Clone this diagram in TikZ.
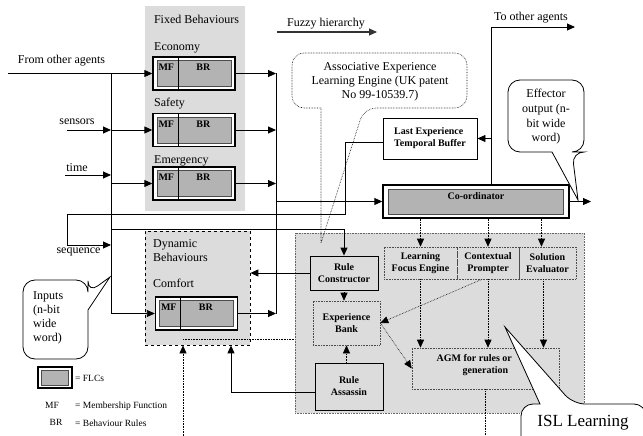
\documentclass[tikz,border=0pt]{standalone}
\usepackage{fontspec}
\setmainfont{Liberation Serif}
\usetikzlibrary{arrows.meta,fit}
\definecolor{panelgray}{HTML}{DCDCDC}
\definecolor{flcgray}{HTML}{B3B3B3}
\newcommand\myflc[3]{%
  \node[flcout] (#1) at (#2,#3) {};
  \node[flcin] (#1i) at (#2,#3) {};
  \draw[line width=1.3pt] ([xshift=26pt]#1.north west) -- ([xshift=26pt]#1.south west);
  \node[btxt] (#1mf) at ([xshift=14pt,yshift=-11pt]#1.north west) {MF};
  \node[btxt] (#1br) at ([xshift=51pt,yshift=-11pt]#1.north west) {BR};
}
\begin{document}
\begin{tikzpicture}[x=1pt,y=-1pt,
  ln/.style={line width=0.9pt},
  arr/.style={line width=0.9pt,-{Triangle[length=8pt,width=7pt]}},
  darr/.style={line width=0.6pt,densely dotted,-{Triangle[length=8pt,width=7pt]}},
  dl/.style={line width=0.6pt,densely dotted},
  txt/.style={font=\fontsize{12}{14}\selectfont,inner sep=0pt},
  ltxt/.style={font=\fontsize{9.5}{11}\selectfont,inner sep=0pt},
  btxt/.style={font=\fontsize{10}{12}\selectfont\bfseries,inner sep=0pt,align=center},
  flcout/.style={draw,line width=1.4pt,fill=white,minimum width=82pt,minimum height=33pt,inner sep=0pt},
  flcin/.style={draw=black!70,line width=0.9pt,fill=flcgray,minimum width=74pt,minimum height=26pt,inner sep=0pt},
  panel/.style={fill=panelgray,inner sep=0pt},
  solidbox/.style={btxt,draw,line width=0.9pt},
  dotbox/.style={btxt,draw=black!70,densely dotted,line width=0.6pt},
  callout/.style={line width=0.8pt,fill=white}
]
\useasboundingbox (0,0) rectangle (643,436);

% panels
\node[panel, fit={(145,6) (245,211)}] (fixed) {};
\node[panel, draw, dashed, line width=0.8pt, fit={(145,231) (250,345)}] (dyn) {};
\node[panel, draw=black!60, densely dotted, line width=0.6pt, fit={(295,233) (584,413)}] (isl) {};

% panel texts
\node[txt] (fixedt) at (196.5,19) {Fixed Behaviours};
\node[txt, anchor=west] (econt) at (154,48) {Economy};
\node[txt, anchor=west] (safet) at (154,104) {Safety};
\node[txt, anchor=west] (emert) at (154,161) {Emergency};
\node[txt, anchor=west, align=left] (dynt) at (153,251) {Dynamic\\Behaviours};
\node[txt, anchor=west] (comft) at (153,283) {Comfort};

% coordinates
\coordinate (fo) at (8,73.5);
\coordinate (bt) at (111,73.5);
\coordinate (bb) at (111,313.5);
\coordinate (sens) at (67,130);
\coordinate (sensb) at (111,130);
\coordinate (tim) at (65,175);
\coordinate (timb) at (111,175);
\coordinate (emb) at (111,183.5);
\coordinate (ob1) at (276,73.5);
\coordinate (ob4) at (276,313.5);
\coordinate (obc) at (276,201.5);
\coordinate (s1) at (345,142);
\coordinate (s2) at (345,214);
\coordinate (s3) at (67,214);
\coordinate (s4) at (67,245);
\coordinate (s5) at (111,245);
\coordinate (r1) at (111,229);
\coordinate (r2) at (344,229);
\coordinate (ra1) at (231,392);
\coordinate (d1) at (183,436);
\coordinate (d2) at (183,339);
\coordinate (t1) at (491,27);
\coordinate (t2) at (575,27);
\coordinate (co) at (591,201.5);
\coordinate (ab) at (487,436);
\coordinate (fza) at (277,32);
\coordinate (fzb) at (377,32);

% fuzzy hierarchy
\draw[line width=1.1pt, draw=black!80, -{Triangle[length=8pt,width=7pt]}] (fza) -- (fzb);
\node[txt] (fuzt) at (326,24) {Fuzzy hierarchy};

% boxes
\myflc{econ}{194}{73.5}
\myflc{safety}{194}{130}
\myflc{emerg}{194}{183.5}
\myflc{comfort}{196.5}{313.5}

\node[flcout, minimum width=186pt] (coord) at (476,201.5) {};
\node[flcin, minimum width=175pt, minimum height=25pt] (coordi) at (476,201.5) {};
\node[btxt] (coordt) at (476,196.5) {Co-ordinator};

\node[solidbox, fill=white, align=left, minimum width=94pt, minimum height=41pt] (leb) at (430,138.5) {Last Experience\\Temporal Buffer};
\node[solidbox, fill=panelgray, minimum width=68pt, minimum height=34pt] (rc) at (344,273) {Rule\\Constructor};
\node[dotbox, minimum width=67pt, minimum height=44pt] (eb) at (346.5,323) {Experience\\Bank};
\node[solidbox, fill=panelgray, minimum width=68pt, minimum height=47pt] (ra) at (349,386.5) {Rule\\Assassin};
\node[dotbox, minimum width=73pt, minimum height=32pt] (lfe) at (420.5,263) {Learning\\Focus Engine};
\node[dotbox, minimum width=62pt, minimum height=32pt] (cp) at (488,263) {Contextual\\Prompter};
\node[dotbox, minimum width=57pt, minimum height=32pt] (se) at (547.5,263) {Solution\\Evaluator};
\node[dotbox, minimum width=147pt, minimum height=41pt] (agm) at (485.5,368.5) {};
\node[btxt] (agmt) at (485.5,365) {AGM for rules or \phantom{FLC}\\generation};

% left inputs
\node[txt] (fromt) at (61.5,61) {From other agents};
\node[txt] (senst) at (77,122) {sensors};
\node[txt] (timet) at (77,168) {time};
\node[txt] (seqt) at (78.5,252) {sequence};

\draw[arr] (fo) -- (econ.west);
\draw[ln] (bt) -- (bb);
\draw[arr] (bb) -- (comfort.west);
\draw[arr] (sens) -- (sensb);
\draw[arr] (sensb) -- (safety.west);
\draw[arr] (tim) -- (timb);
\draw[arr] (emb) -- (emerg.west);

% outputs of behaviours
\draw[arr] (econ.east) -- (ob1);
\draw[arr] (safety.east) -- (safety.east -| ob1);
\draw[arr] (emerg.east) -- (emerg.east -| ob1);
\draw[arr] (comfort.east) -- (ob4);
\draw[ln] (ob1) -- (ob4);
\draw[arr] (obc) -- (coord.west);

% sequence loop
\draw[arr] (leb.west |- s1) -- (s1) -- (s2) -- (s3) -- (s4) -- (s5);
\draw[arr] (r1) -- (r2) -- (rc.north);
\draw[arr] (rc.west) -- (rc.west -| dyn.east);
\draw[arr] (ra.west |- ra1) -- (ra1) -- (ra1 |- dyn.south);
\draw[darr] (d1) -- (d1 |- dyn.south);
\draw[dl] (d2) -- (d2 -| isl.west);

% coordinator top
\draw[arr] (coord.north -| t1) -- (t1) -- (t2);
\draw[arr] (t1 |- leb.east) -- (leb.east);
\draw[arr] (coord.east) -- (co);
\node[txt] (tot) at (531,18) {To other agents};

% ISL internals
\coordinate (sex) at ([xshift=-6pt]se.north);
\coordinate (sexb) at ([xshift=-4pt]se.south);
\coordinate (cpx) at ([xshift=-6pt]cp.south);
\draw[darr] (coord.south -| lfe.north) -- (lfe.north);
\draw[darr] (coord.south -| cp.north) -- (cp.north);
\draw[darr] (coord.south -| sex) -- (sex);
\draw[darr] (lfe.south) -- (lfe.south |- agm.north);
\draw[darr] (cp.south) -- (cp.south |- agm.north);
\draw[darr] (sexb) -- (sexb |- agm.north);
\draw[darr] (cpx) -- (eb.east);
\draw[darr] (eb.east) -- (agm.west);
\draw[darr] (rc.south) -- (rc.south |- eb.north);
\draw[darr] (eb.south |- ra.north) -- (eb.south);
\draw[dl] (agm.south) -- (agm.south |- ab);

% callouts
\draw[dl] (321,108) [rounded corners=12pt] -- (292,108) -- (292,53) -- (467,53) -- (467,108) -- (364,108) [sharp corners] -- (321,243) -- cycle;
\node[txt, align=center] (aet) at (380,82) {Associative Experience\\Learning Engine (UK patent\\No 99-10539.7)};

\draw[callout] (552,152) [rounded corners=12pt] -- (508,152) -- (508,80) -- (584,80) -- (584,152) -- (572,152) [sharp corners] -- (578,200) -- cycle;
\node[txt, align=center, font=\fontsize{12}{14.7}\selectfont] (efft) at (546,117) {Effector\\output (n-\\bit wide\\word)};

\draw[callout] (88,310) [rounded corners=12pt] -- (88,359) -- (23,359) -- (23,280) -- (88,280) -- (88,293) [sharp corners] -- (110,277) -- cycle;
\node[txt, anchor=west, align=left] (inpt) at (33,318) {Inputs\\(n-bit\\wide\\word)};

\begin{scope}
\clip (0,0) rectangle (643,436);
\draw[callout] (540,404) [rounded corners=12pt] -- (521,404) -- (521,470) -- (646,470) -- (646,404) -- (573,404) [sharp corners] -- (505,327) -- cycle;
\end{scope}
\node[inner sep=0pt, font=\fontsize{17}{20}\selectfont] (islt) at (583,423) {ISL Learning};

% legend
\node[flcout, line width=1.2pt, minimum width=34pt, minimum height=21pt] (leg) at (55,377.5) {};
\node[flcin, minimum width=27pt, minimum height=15pt] (legi) at (55,377.5) {};
\node[ltxt, anchor=west] (legt) at (75,378) {= FLCs};
\node[ltxt] (mfk) at (52,405) {MF};
\node[ltxt, anchor=west] (mfv) at (75,406) {= Membership Function};
\node[ltxt] (brk) at (56,422) {BR};
\node[ltxt, anchor=west] (brv) at (75,423) {= Behaviour Rules};
\end{tikzpicture}
\end{document}
